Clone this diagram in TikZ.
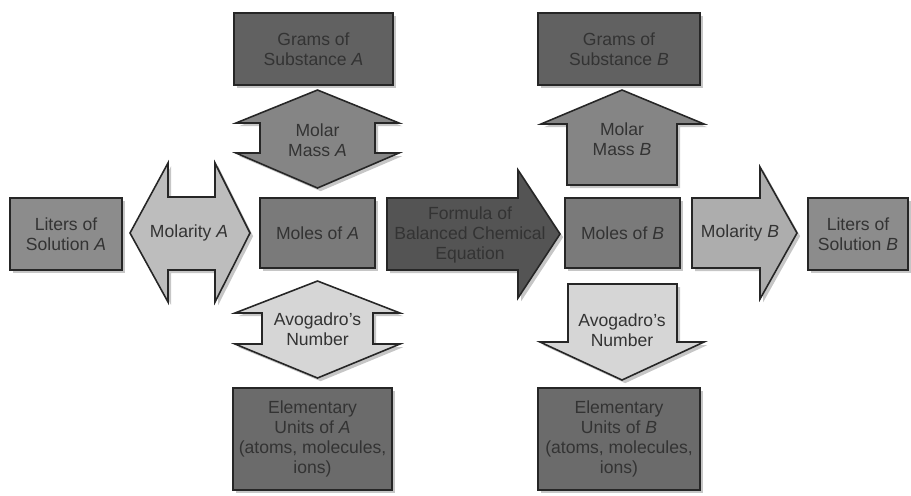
\documentclass[tikz,border=0pt]{standalone}
\usepackage{fontspec}
\setmainfont{Liberation Sans}
\usepackage{tikz}
\usetikzlibrary{shadows}
\definecolor{gramsgray}{gray}{0.38}
\definecolor{molesgray}{gray}{0.48}
\definecolor{litersgray}{gray}{0.55}
\definecolor{massgray}{gray}{0.52}
\definecolor{molaragray}{gray}{0.74}
\definecolor{molarbgray}{gray}{0.68}
\definecolor{avogray}{gray}{0.84}
\definecolor{eqngray}{gray}{0.33}
\definecolor{elemgray}{gray}{0.42}

\begin{document}
\begin{tikzpicture}[x=0.02cm, y=-0.02cm,
    blk/.style={draw=black!85, line width=0.9pt,
                drop shadow={shadow xshift=1.8pt, shadow yshift=-1.8pt, opacity=0.45}},
    qbox/.style={blk, rectangle, inner sep=2pt, align=center, text=black!80,
                 font=\fontsize{10}{11.5}\selectfont},
    lbl/.style={align=center, inner sep=1pt, text=black!80, font=\fontsize{10}{11.5}\selectfont}
]
    \useasboundingbox (0,0) rectangle (911,495);

    \node[qbox, fill=gramsgray, minimum width=3.18cm, minimum height=1.44cm] (gramsA) at (313.5,49) {Grams of\\Substance \textit{A}};
    \node[qbox, fill=gramsgray, minimum width=3.24cm, minimum height=1.44cm] (gramsB) at (619,49) {Grams of\\Substance \textit{B}};
    \node[qbox, fill=litersgray, minimum width=2.24cm, minimum height=1.44cm] (litersA) at (66,234) {Liters of\\Solution \textit{A}};
    \node[qbox, fill=molesgray, minimum width=2.3cm, minimum height=1.4cm] (molesA) at (317.5,233) {Moles of \textit{A}};
    \node[qbox, fill=molesgray, minimum width=2.3cm, minimum height=1.4cm] (molesB) at (622.5,233) {Moles of \textit{B}};
    \node[qbox, fill=litersgray, minimum width=2.0cm, minimum height=1.44cm] (litersB) at (858,234) {Liters of\\Solution \textit{B}};
    \node[qbox, fill=elemgray, minimum width=3.18cm, minimum height=2.04cm] (elemA) at (312.5,439) {Elementary\\Units of \textit{A}\\(atoms, molecules,\\ions)};
    \node[qbox, fill=elemgray, minimum width=3.24cm, minimum height=2.04cm] (elemB) at (619,439) {Elementary\\Units of \textit{B}\\(atoms, molecules,\\ions)};

    \draw[blk, fill=massgray] (317.5,90) -- (399,123) -- (375,123) -- (375,153) -- (399,153) -- (317.5,188)
        -- (236,153) -- (260,153) -- (260,123) -- (236,123) -- cycle;
    \draw[blk, fill=avogray] (317.5,281) -- (400,313) -- (373,313) -- (373,344) -- (400,344) -- (317.5,378)
        -- (235,344) -- (262,344) -- (262,313) -- (235,313) -- cycle;
    \draw[blk, fill=molaragray] (130,233) -- (168,163) -- (168,197) -- (215,197) -- (215,163) -- (250,233)
        -- (215,302) -- (215,270) -- (168,270) -- (168,302) -- cycle;
    \draw[blk, fill=eqngray] (387,198) -- (518,198) -- (518,170) -- (560,234) -- (518,298) -- (518,270) -- (387,270) -- cycle;
    \draw[blk, fill=massgray] (622,90) -- (704,124) -- (677,124) -- (677,185) -- (567,185) -- (567,124) -- (541,124) -- cycle;
    \draw[blk, fill=avogray] (568,284) -- (677,284) -- (677,342) -- (704,342) -- (622,380) -- (540,342) -- (568,342) -- cycle;
    \draw[blk, fill=molarbgray] (692,198) -- (760,198) -- (760,167) -- (797,233) -- (760,299) -- (760,268) -- (692,268) -- cycle;

    \node[lbl] (massA) at (317.5,140) {Molar\\Mass \textit{A}};
    \node[lbl] (avoA) at (317.5,329) {Avogadro's\\Number};
    \node[lbl] (molarA) at (189,233) {Molarity \textit{A}};
    \node[lbl] (eqn) at (470,235) {Formula of\\Balanced Chemical\\Equation};
    \node[lbl] (massB) at (622,139) {Molar\\Mass \textit{B}};
    \node[lbl] (avoB) at (622,330) {Avogadro's\\Number};
    \node[lbl] (molarB) at (740,233) {Molarity \textit{B}};
\end{tikzpicture}
\end{document}
